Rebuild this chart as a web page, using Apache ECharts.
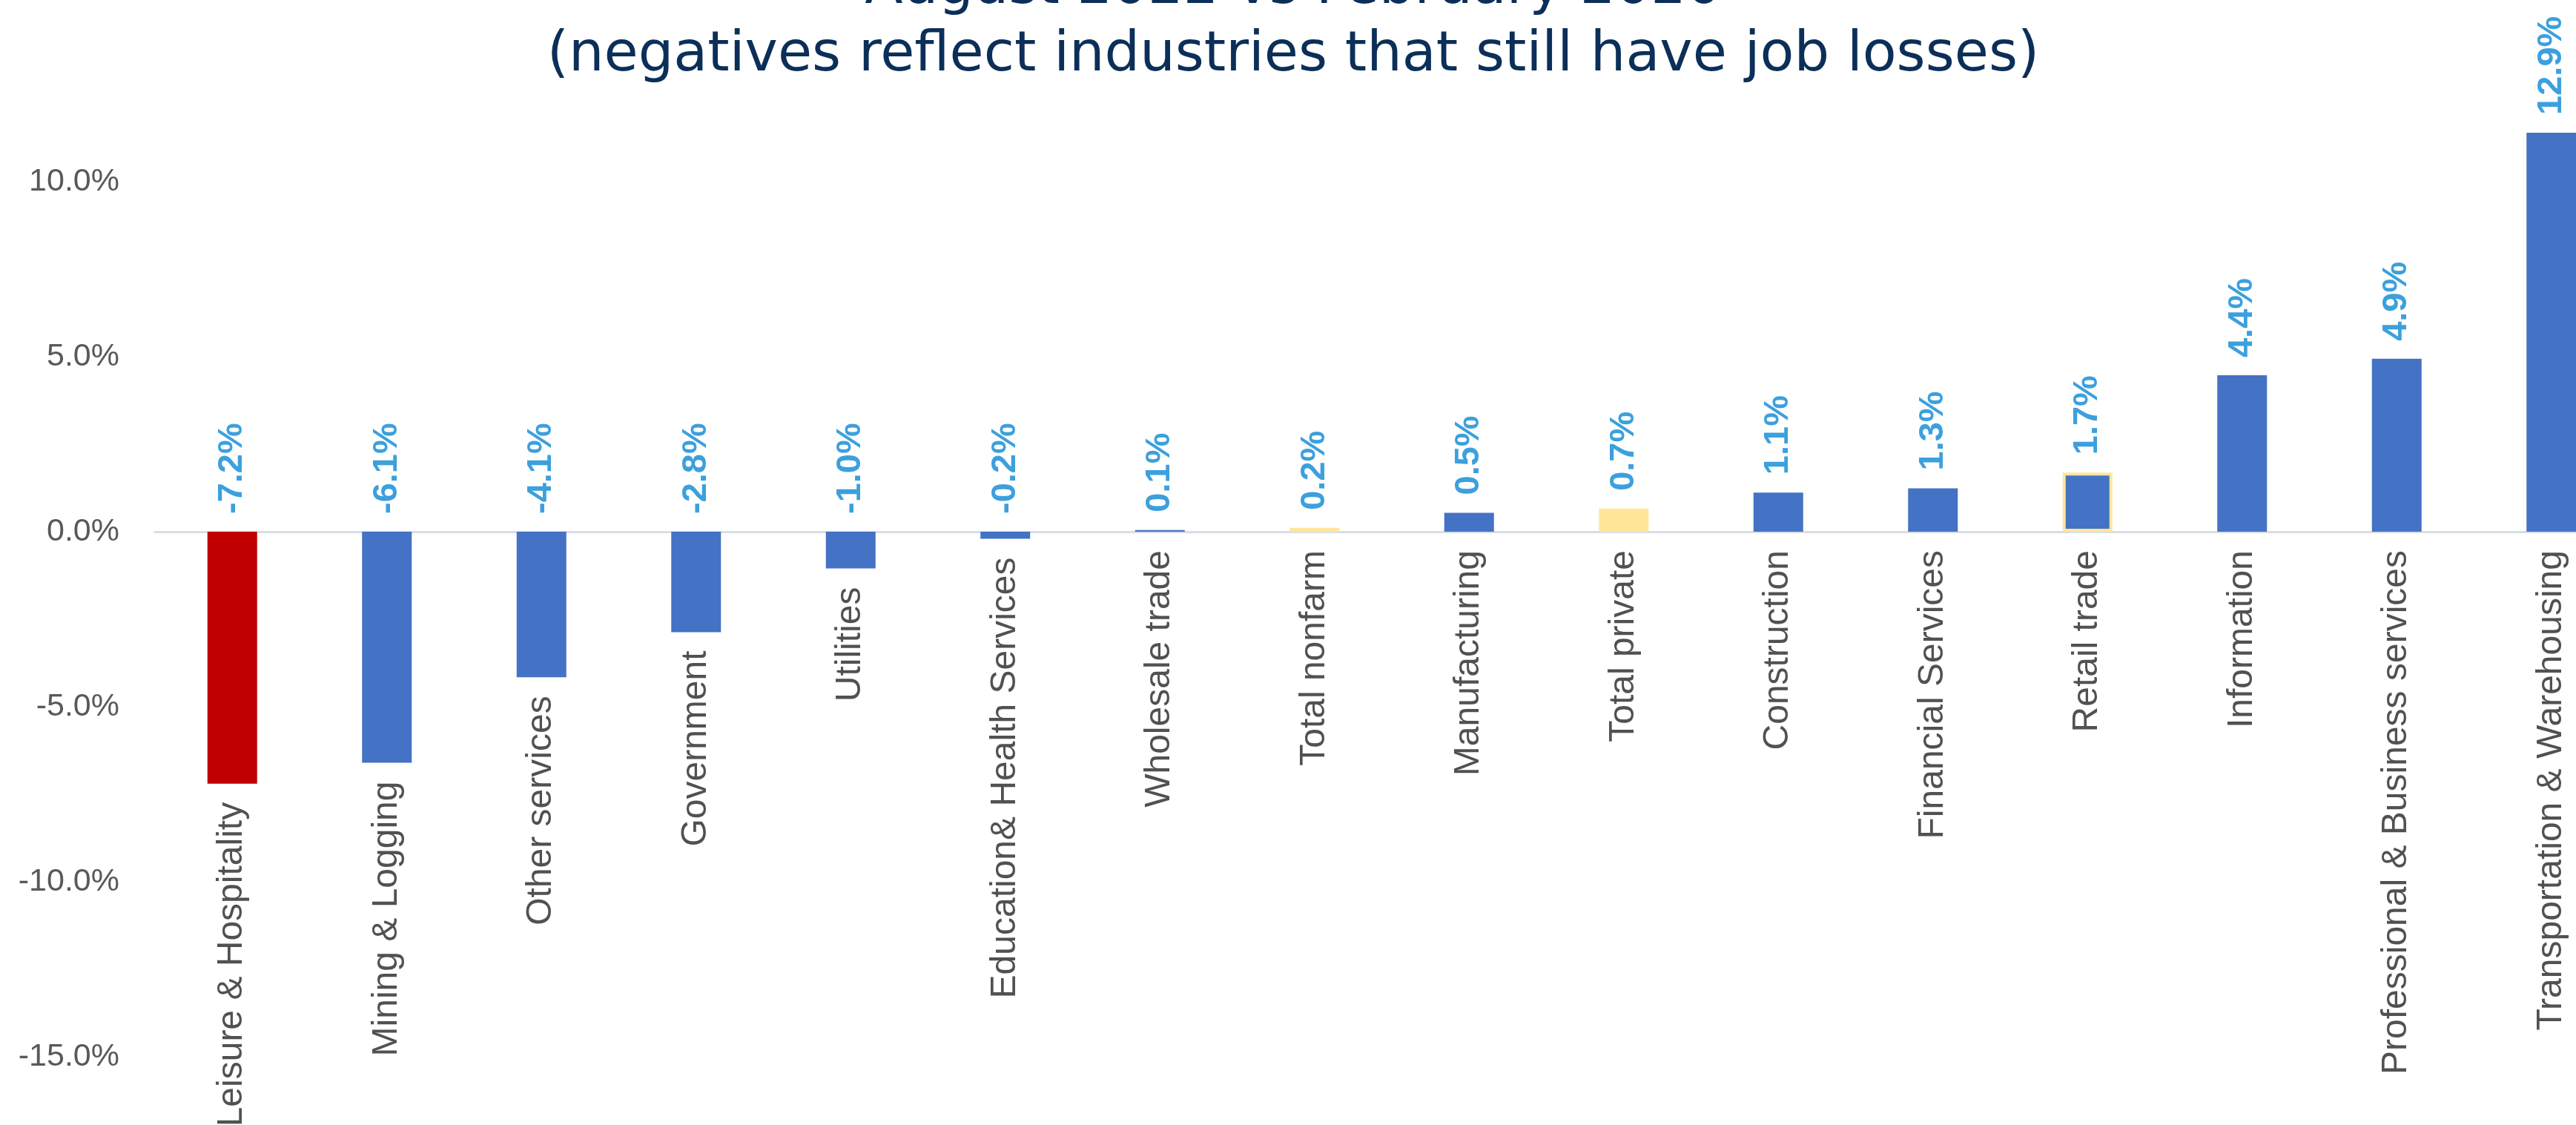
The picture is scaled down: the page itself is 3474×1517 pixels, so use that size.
<!DOCTYPE html>
<html>
<head>
<meta charset="utf-8">
<script src="https://cdn.jsdelivr.net/npm/echarts@6/dist/echarts.min.js"></script>
<style>
html,body{margin:0;padding:0;background:#fff;overflow:hidden;}
#chart{width:3474px;height:1517px;}
</style>
</head>
<body>
<div id="chart"></div>
<script>
// ---- data ----
const categories = [
  'Leisure & Hospitality', 'Mining & Logging', 'Other services', 'Government',
  'Utilities', 'Education& Health Services', 'Wholesale trade', 'Total nonfarm',
  'Manufacturing', 'Total private', 'Construction', 'Financial Services',
  'Retail trade', 'Information', 'Professional & Business services',
  'Transportation & Warehousing'
];
// bar heights (percent) as drawn
const barValues = [-7.2, -6.6, -4.16, -2.87, -1.05, -0.2, 0.05, 0.11,
  0.54, 0.66, 1.12, 1.24, 1.69, 4.47, 4.94, 11.4];
// data label texts as printed
const valueLabels = ['-7.2%', '-6.1%', '-4.1%', '-2.8%', '-1.0%', '-0.2%', '0.1%', '0.2%',
  '0.5%', '0.7%', '1.1%', '1.3%', '1.7%', '4.4%', '4.9%', '12.9%'];
const yTicks = [-15, -10, -5, 0, 5, 10];
const titleLines = ['August 2022 vs February 2020', '(negatives reflect industries that still have job losses)'];

// ---- styles ----
const baseColor = '#4472c4';
const specialStyles = {
  'Leisure & Hospitality': {color: '#c00000'},
  'Total nonfarm': {color: '#ffe699'},
  'Total private': {color: '#ffe699'},
  'Retail trade': {color: '#4472c4', borderColor: '#ffe699', borderWidth: 4}
};

const chart = echarts.init(document.getElementById('chart'), null, {renderer: 'canvas'});

const barData = barValues.map((v, i) => ({
  value: v,
  itemStyle: Object.assign({color: baseColor}, specialStyles[categories[i]] || {})
}));

const option = {
  backgroundColor: '#ffffff',
  animation: false,
  title: {
    text: titleLines.join('\n'),
    left: 1744,
    top: -61,
    textAlign: 'center',
    padding: 0,
    textStyle: {
      fontFamily: 'DejaVu Sans',
      fontSize: 75,
      fontWeight: 'normal',
      color: '#0b2f58',
      lineHeight: 91
    }
  },
  grid: {
    left: 209, top: 150.6, width: 3336, height: 1510.4,
    containLabel: false,
    outerBoundsMode: 'none'
  },
  xAxis: {
    type: 'category',
    data: categories,
    axisLine: {show: true, onZero: true, lineStyle: {color: '#d9dee6', width: 3}},
    axisTick: {show: false},
    axisLabel: {show: false},
    splitLine: {show: false}
  },
  yAxis: {
    type: 'value',
    min: -20,
    max: 12,
    interval: 5,
    axisLine: {show: false},
    axisTick: {show: false},
    splitLine: {show: false},
    axisLabel: {
      margin: 48,
      fontFamily: 'Liberation Sans',
      fontSize: 43,
      color: '#595959',
      formatter: function (v) {
        return yTicks.indexOf(v) >= 0 ? v.toFixed(1) + '%' : '';
      }
    }
  },
  series: [
    {
      type: 'bar',
      data: barData,
      barWidth: 67,
      silent: true
    },
    {
      type: 'scatter',
      silent: true,
      symbolSize: 0,
      z: 5,
      data: barValues.map((v, i) => [i, Math.max(v, 0)]),
      label: {
        show: true,
        position: 'top',
        distance: 24,
        rotate: 90,
        align: 'left',
        verticalAlign: 'middle',
        fontFamily: 'Liberation Sans',
        fontWeight: 'bold',
        fontSize: 47,
        color: '#0b88d5',
        formatter: p => valueLabels[p.dataIndex]
      }
    },
    {
      type: 'scatter',
      silent: true,
      symbolSize: 0,
      z: 5,
      data: barValues.map((v, i) => [i, Math.min(v, 0)]),
      label: {
        show: true,
        position: 'bottom',
        distance: 25,
        rotate: 90,
        align: 'right',
        verticalAlign: 'middle',
        fontFamily: 'Liberation Sans',
        fontSize: 48,
        color: '#262626',
        formatter: p => categories[p.dataIndex]
      }
    }
  ]
};
chart.setOption(option);
</script>
</body>
</html>
